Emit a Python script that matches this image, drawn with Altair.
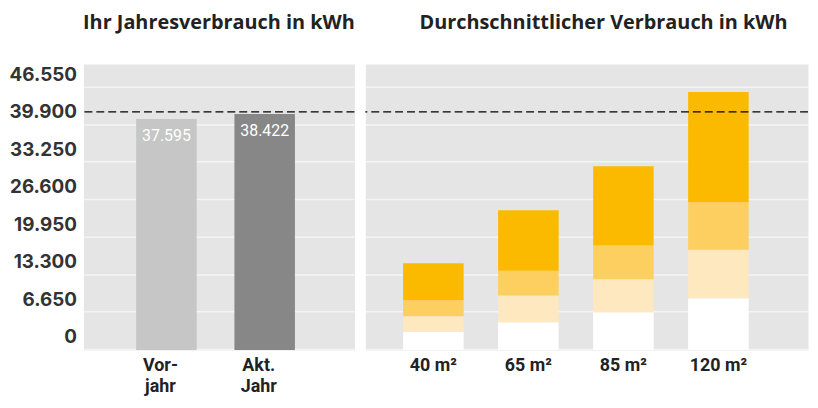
import altair as alt
import pandas as pd

# ---------------- data ----------------
left_categories = ["Vor-\njahr", "Akt.\nJahr"]
left_values = [37595, 38422]
left_colors = ["#c5c6c5", "#878787"]

right_categories = ["40 m²", "65 m²", "85 m²", "120 m²"]
segment_names = ["Teil 1", "Teil 2", "Teil 3", "Teil 4"]
segment_colors = ["#ffffff", "#fee8bf", "#fdcf61", "#fbba00"]
seg_1 = [2900, 4500, 6150, 8400]
seg_2 = [2600, 4350, 5350, 7900]
seg_3 = [2600, 4050, 5500, 7750]
seg_4 = [6000, 9850, 12900, 17950]

tick_values = [0, 6650, 13300, 19950, 26600, 33250, 39900, 46550]
reference_value = 39900

title_left = "Ihr Jahresverbrauch in kWh"
title_right = "Durchschnittlicher Verbrauch in kWh"

# ---------------- scales ----------------
bar_domain = [0, 46550]
axis_domain = [-2343, 48397]


def de_num(v):
    return f"{v:,}".replace(",", ".")


left_df = pd.DataFrame({
    "cat": left_categories,
    "value": left_values,
    "label": [de_num(v) for v in left_values],
})

rows = []
for i, c in enumerate(right_categories):
    for j, (name, seg) in enumerate(zip(segment_names, [seg_1, seg_2, seg_3, seg_4])):
        rows.append({"cat": c, "segment": name, "order": j, "value": seg[i]})
right_df = pd.DataFrame(rows)

ticks_df = pd.DataFrame({"v": tick_values})
ref_df = pd.DataFrame({"v": [reference_value]})

GRID = dict(grid=True, gridColor="#f4f4f4", gridWidth=1.5, domain=False, ticks=False,
            tickOffset=12.5)


def axis_layer(show_labels):
    ax = alt.Axis(values=tick_values, title=None, labels=show_labels,
                  labelExpr="replace(format(datum.value, ','), ',', '.')",
                  labelOffset=-12.5, labelPadding=7, labelFont="Inter",
                  labelFontSize=19, labelFontWeight="bold", labelColor="#333333",
                  **GRID)
    return alt.Chart(ticks_df).mark_point(opacity=0).encode(
        y=alt.Y("v:Q", scale=alt.Scale(domain=axis_domain, nice=False, zero=False), axis=ax)
    )


def rule_layer():
    return alt.Chart(ref_df).mark_rule(color="black", strokeDash=[8, 4], strokeWidth=1.2).encode(
        y=alt.Y("v:Q", scale=alt.Scale(domain=axis_domain, nice=False, zero=False), axis=None)
    )


x_axis_common = dict(title=None, domain=False, ticks=False, labelAngle=0, labelPadding=7,
                     labelFont="Roboto", labelFontSize=18, labelFontWeight="bold",
                     labelColor="#222222", labelLineHeight=21)

title_common = dict(font="Open Sans", fontSize=20, fontWeight="bold", color="#222222",
                    anchor="middle", offset=31)

# ---------------- left panel ----------------
left_x = alt.X("cat:N", sort=left_categories,
               scale=alt.Scale(paddingInner=0.384, paddingOuter=0.571, align=0.47),
               axis=alt.Axis(labelExpr="split(datum.value, '\\n')", labelOffset=-6,
                             **x_axis_common))

left_bars = alt.Chart(left_df).mark_bar().encode(
    x=left_x,
    y=alt.Y("value:Q", scale=alt.Scale(domain=bar_domain, nice=False), axis=None),
    color=alt.Color("cat:N", scale=alt.Scale(domain=left_categories, range=left_colors),
                    legend=None),
)
left_text = alt.Chart(left_df).mark_text(baseline="top", dy=9, color="white",
                                         font="Roboto", fontSize=16).encode(
    x=left_x,
    y=alt.Y("value:Q", scale=alt.Scale(domain=bar_domain, nice=False), axis=None),
    text="label:N",
)

left = alt.layer(axis_layer(True), left_bars, left_text, rule_layer()).resolve_scale(
    y="independent"
).properties(width=273, height=288, title=alt.Title(title_left, **title_common))

# ---------------- right panel ----------------
right_x = alt.X("cat:N", sort=right_categories,
                scale=alt.Scale(paddingInner=0.3626, paddingOuter=0.511, align=0.389),
                axis=alt.Axis(**x_axis_common))

right_bars = alt.Chart(right_df).mark_bar().encode(
    x=right_x,
    y=alt.Y("sum(value):Q", stack="zero", scale=alt.Scale(domain=bar_domain, nice=False),
            axis=None),
    color=alt.Color("segment:N", scale=alt.Scale(domain=segment_names, range=segment_colors),
                    legend=None),
    order=alt.Order("order:Q", sort="ascending"),
)

right = alt.layer(axis_layer(False), right_bars, rule_layer()).resolve_scale(
    y="independent"
).properties(width=446, height=288,
             title=alt.Title(title_right, dx=17, **title_common))

chart = alt.hconcat(left, right, spacing=7).resolve_scale(
    x="independent", y="independent", color="independent"
).properties(
    padding={"left": 0, "top": 3, "right": 0, "bottom": 0}
).configure_view(fill="#e5e5e5", stroke="transparent")

chart.save("out.html", embed_options={"renderer": "svg", "actions": False})
